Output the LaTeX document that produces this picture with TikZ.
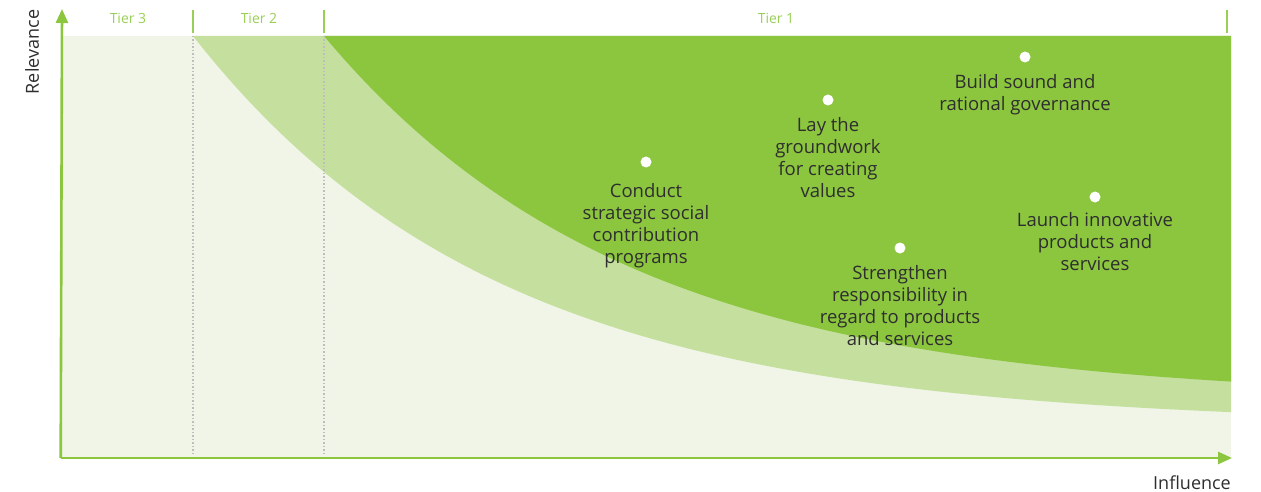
\documentclass[tikz,border=0pt]{standalone}
\usepackage{fontspec}
\setmainfont{Open Sans}
\usetikzlibrary{arrows.meta}
\definecolor{gdark}{HTML}{8CC63F}
\definecolor{gmid}{HTML}{C5E09E}
\definecolor{glight}{HTML}{F0F5E8}
\definecolor{tiergreen}{HTML}{9ACF57}
\definecolor{txt}{HTML}{2E2E2E}
\definecolor{dotgray}{HTML}{BDBDBD}
\tikzset{
  axis/.style={draw=gdark, line width=2.6pt, -{Triangle[length=14pt,width=12pt]}},
  tiersep/.style={draw=tiergreen, line width=1.2pt},
  dotsep/.style={draw=dotgray, line width=1.1pt, dash pattern=on 1.5pt off 2pt},
  tierlabel/.style={text=tiergreen, font=\fontsize{14}{16}\selectfont, inner sep=0pt},
  marker/.style={circle, fill=white, minimum size=11pt, inner sep=0pt},
  item/.style={text=txt, align=center, font=\fontsize{18.5}{22}\selectfont, inner sep=0pt, anchor=north},
  axlabel/.style={text=txt, font=\fontsize{18}{20}\selectfont, inner sep=0pt}
}
\begin{document}
\begin{tikzpicture}[x=1pt,y=-1pt]
\useasboundingbox (0,0) rectangle (1261,492);
% background
\fill[glight] (62,36) rectangle (1231,458);
% middle band
\fill[gmid] plot[domain=193:1231, samples=150] (\x,{425-389*exp(-(\x-193)/304.5)}) -- (1231,36) -- cycle;
% dark region
\fill[gdark] plot[domain=324:1231, samples=150] (\x,{400-364*exp(-(\x-324)/304)}) -- (1231,36) -- cycle;
% dotted tier separators
\coordinate (d3t) at (193,36); \coordinate (d3b) at (193,453);
\coordinate (d2t) at (324,36); \coordinate (d2b) at (324,453);
\draw[dotsep] (d3t) -- (d3b);
\draw[dotsep] (d2t) -- (d2b);
% tier header separators
\coordinate (s1t) at (193,10); \coordinate (s1b) at (193,33);
\coordinate (s2t) at (324,10); \coordinate (s2b) at (324,33);
\coordinate (s3t) at (1227,10); \coordinate (s3b) at (1227,33);
\draw[tiersep] (s1t) -- (s1b);
\draw[tiersep] (s2t) -- (s2b);
\draw[tiersep] (s3t) -- (s3b);
\node[tierlabel] (t3) at (128,18) {Tier 3};
\node[tierlabel] (t2) at (259,18) {Tier 2};
\node[tierlabel] (t1) at (776,18) {Tier 1};
% axes
\coordinate (origin) at (60.7,458);
\coordinate (ytip) at (62,9);
\coordinate (xtip) at (1232,458);
\draw[axis] (origin) -- (ytip);
\draw[axis] (origin) -- (xtip);
\node[axlabel, rotate=90] (rel) at (32,52) {Relevance};
\node[axlabel] (inf) at (1192,483) {Influence};
% items
\node[marker] (m1) at (646,162) {};
\node[item] (l1) at (646,183) {Conduct\\strategic social\\contribution\\programs};
\node[marker] (m2) at (828,100) {};
\node[item] (l2) at (828,117) {Lay the\\groundwork\\for creating\\values};
\node[marker] (m3) at (1025,57) {};
\node[item] (l3) at (1025,74) {Build sound and\\rational governance};
\node[marker] (m4) at (1095,197) {};
\node[item] (l4) at (1095,212) {Launch innovative\\products and\\services};
\node[marker] (m5) at (900,248) {};
\node[item] (l5) at (900,265) {Strengthen\\responsibility in\\regard to products\\and services};
\end{tikzpicture}
\end{document}
